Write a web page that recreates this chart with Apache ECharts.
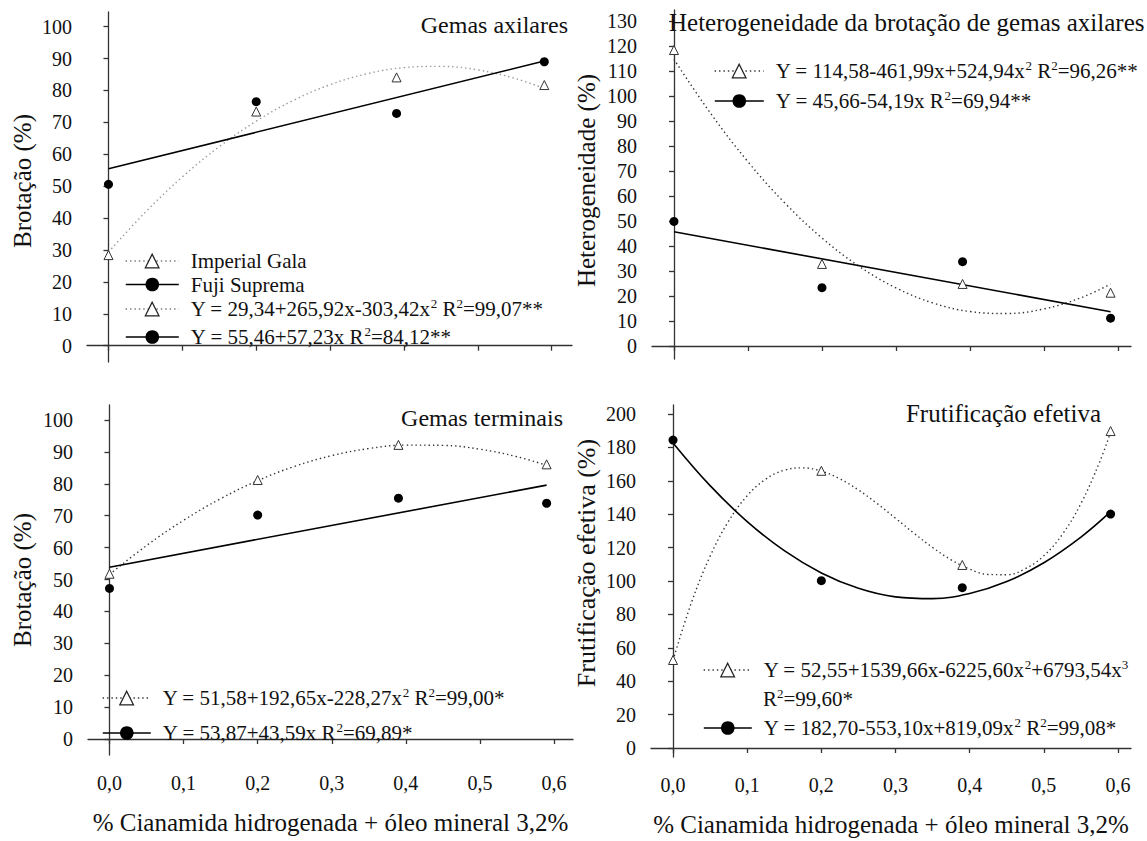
<!DOCTYPE html>
<html><head><meta charset="utf-8">
<script src="https://cdn.jsdelivr.net/npm/echarts@6/dist/echarts.min.js"></script>
<style>
html,body{margin:0;padding:0;background:#fff}
#c{width:1147px;height:841px}
</style>
</head><body><div id="c"></div>
<script>
// ---- observed data ----
const doses = [0, 0.2, 0.39, 0.59];
const galaAxilares = [28.4, 73.4, 84.1, 81.7];
const fujiAxilares = [50.6, 76.5, 72.8, 89.0];
const galaHetero = [118.3, 32.8, 24.8, 21.3];
const fujiHetero = [49.8, 23.3, 33.7, 11.1];
const galaTerminais = [51.8, 81.2, 92.2, 86.1];
const fujiTerminais = [47.2, 70.2, 75.5, 73.9];
const galaFrut = [52.7, 166.0, 109.6, 189.8];
const fujiFrut = [184.4, 100.2, 96.0, 140.1];

// ---- regression curves as drawn ----
const fitX = [0, 0.05, 0.1, 0.15, 0.2, 0.25, 0.3, 0.35, 0.4, 0.45, 0.5, 0.55, 0.59];
const lineX = [0, 0.59];
const galaAxilaresFit = [29.34, 41.88, 52.90, 62.40, 70.39, 76.86, 81.81, 85.24, 87.16, 87.56, 86.45, 83.81, 80.61];
const fujiAxilaresFit = [55.46, 89.23];
const galaHeteroFit = [114.58, 92.79, 73.63, 57.09, 43.18, 31.89, 23.23, 17.19, 13.77, 12.98, 14.82, 19.28, 24.74];
const fujiHeteroFit = [45.66, 13.69];
const galaTerminaisFit = [51.58, 60.64, 68.56, 75.34, 80.98, 85.48, 88.83, 91.05, 92.12, 92.05, 90.84, 88.49, 85.79];
const fujiTerminaisFit = [53.87, 79.59];
const cubicX = [0, 0.025, 0.05, 0.075, 0.1, 0.125, 0.15, 0.175, 0.2, 0.225, 0.25, 0.275, 0.3, 0.325, 0.35, 0.375, 0.4, 0.425, 0.45, 0.475, 0.5, 0.525, 0.55, 0.575, 0.59];
const galaFrutFit = [52.55, 87.26, 114.82, 135.87, 151.05, 160.99, 166.35, 167.74, 165.81, 161.18, 154.51, 146.43, 137.57, 128.57, 120.07, 112.69, 107.11, 103.92, 103.77, 107.32, 115.17, 127.98, 146.39, 171.04, 189.07];
const fujiFrutFit = [182.70, 157.09, 135.58, 118.17, 104.84, 95.62, 90.49, 89.45, 92.51, 99.67, 110.92, 126.27, 141.50];

// ---- ticks ----
const xTicks = [0, 0.1, 0.2, 0.3, 0.4, 0.5, 0.6];
const yTicks100 = [0, 10, 20, 30, 40, 50, 60, 70, 80, 90, 100];
const yTicks130 = [0, 10, 20, 30, 40, 50, 60, 70, 80, 90, 100, 110, 120, 130];
const yTicks200 = [0, 20, 40, 60, 80, 100, 120, 140, 160, 180, 200];

// ---- texts ----
const panelTitles = ['Gemas axilares', 'Heterogeneidade da brotação de gemas axilares', 'Gemas terminais', 'Frutificação efetiva'];
const yNames = ['Brotação (%)', 'Heterogeneidade (%)', 'Brotação (%)', 'Frutificação efetiva (%)'];
const xName = '% Cianamida hidrogenada + óleo mineral 3,2%';
const labels = {
  'Imperial Gala': 'Imperial Gala',
  'Fuji Suprema': 'Fuji Suprema',
  eqA1: 'Y = 29,34+265,92x-303,42x{s|2} R{s|2}=99,07**',
  eqA2: 'Y = 55,46+57,23x R{s|2}=84,12**',
  eqB1: 'Y = 114,58-461,99x+524,94x{s|2} R{s|2}=96,26**',
  eqB2: 'Y = 45,66-54,19x R{s|2}=69,94**',
  eqC1: 'Y = 51,58+192,65x-228,27x{s|2} R{s|2}=99,00*',
  eqC2: 'Y = 53,87+43,59x R{s|2}=69,89*',
  eqD1: 'Y = 52,55+1539,66x-6225,60x{s|2}+6793,54x{s|3}',
  eqD2: 'Y = 182,70-553,10x+819,09x{s|2} R{s|2}=99,08*'
};
const eqD1b = 'R{s|2}=99,60*';

const FONT = "Liberation Serif";
const INK = '#111';
const AX = '#333';
const rich = { s: { fontFamily: FONT, fontSize: 13, color: INK, verticalAlign: 'top', lineHeight: 14 } };
const zip = (xs, ys) => xs.map((x, i) => [x, ys[i]]);

const triStyle = { color: '#fff', borderColor: '#333', borderWidth: 1 };
const dotStyle = { color: '#000', borderColor: '#000', borderWidth: 0 };

function pointSeries(name, xs, ys, tri, gi) {
  return {
    type: 'line', name, xAxisIndex: gi, yAxisIndex: gi, data: zip(xs, ys),
    symbol: tri ? 'triangle' : 'circle', symbolSize: 9, showSymbol: true,
    itemStyle: tri ? triStyle : dotStyle, lineStyle: { opacity: 0, width: 0 },
    z: 5, silent: true, animation: false
  };
}
function fitSeries(name, xs, ys, tri, gi, dotColor) {
  return {
    type: 'line', name, xAxisIndex: gi, yAxisIndex: gi, data: zip(xs, ys),
    symbol: tri ? 'triangle' : 'circle', showSymbol: false, smooth: 0.4,
    itemStyle: tri ? triStyle : dotStyle,
    lineStyle: tri ? { color: dotColor, width: 1.4, type: [1.4, 3] } : { color: '#000', width: 1.6, type: 'solid' },
    z: 3, silent: true, animation: false
  };
}
function legendRow(name, left, cy, w, tri, dotColor) {
  return {
    left, top: cy - 12, padding: 0, itemWidth: w, itemHeight: 17, selectedMode: false,
    data: [{
      name,
      itemStyle: tri ? { color: '#fff', borderColor: '#222', borderWidth: 1.3, opacity: 1 } : { color: '#000', borderColor: '#000', borderWidth: 0, opacity: 1 },
      lineStyle: tri ? { color: dotColor, width: 1.3, type: [1.4, 3], opacity: 1 } : { color: '#000', width: 1.6, type: 'solid', opacity: 1 }
    }],
    formatter: n => labels[n],
    textStyle: { fontFamily: FONT, fontSize: 21, color: INK, lineHeight: 24, padding: [0, 0, 0, 7], rich }
  };
}
function titleAt(text, pos, top, size) {
  return Object.assign({ text, top, padding: 0, textStyle: { fontFamily: FONT, fontSize: size || 24, fontWeight: 'normal', color: INK, lineHeight: 28, rich } }, pos);
}
function xAxis(gi, min, max, showLabels) {
  return {
    type: 'value', gridIndex: gi, min, max,
    axisLine: { show: true, lineStyle: { color: AX, width: 1.3 } },
    axisTick: { show: true, length: 5, inside: false, customValues: xTicks, lineStyle: { color: AX, width: 1.3 } },
    axisLabel: { show: showLabels, customValues: xTicks, margin: 17, fontFamily: FONT, fontSize: 20, color: INK, lineHeight: 22,
      formatter: v => v.toFixed(1).replace('.', ',') },
    splitLine: { show: false },
    name: showLabels ? xName : '', nameLocation: 'middle', nameGap: 55,
    nameTextStyle: { fontFamily: FONT, fontSize: 25, color: INK, lineHeight: 25 }
  };
}
function yAxis(gi, min, max, ticks, name, gap, shiftUp, size) {
  return {
    type: 'value', gridIndex: gi, min, max,
    axisLine: { show: true, lineStyle: { color: AX, width: 1.3 } },
    axisTick: { show: true, length: 5, inside: false, customValues: ticks, lineStyle: { color: AX, width: 1.3 } },
    axisLabel: { customValues: ticks, margin: 15, fontFamily: FONT, fontSize: 20, color: INK, formatter: v => String(v) },
    splitLine: { show: false },
    name, nameLocation: 'middle', nameRotate: 90, nameGap: gap,
    nameTextStyle: { fontFamily: FONT, fontSize: size || 25, color: INK, lineHeight: 25, padding: [0, 0, 0, 2 * shiftUp] }
  };
}

const chart = echarts.init(document.getElementById('c'), null, { renderer: 'svg' });
chart.setOption({
  backgroundColor: '#fff',
  animation: false,
  textStyle: { fontFamily: FONT },
  grid: [
    { left: 87, top: 12, width: 485, height: 350 },
    { left: 652, top: 10, width: 479, height: 349 },
    { left: 88, top: 405, width: 485, height: 350 },
    { left: 651, top: 405, width: 480, height: 352 }
  ],
  xAxis: [
    xAxis(0, -0.0291, 0.6275, false),
    xAxis(1, -0.0297, 0.6176, false),
    xAxis(2, -0.029, 0.6256, true),
    xAxis(3, -0.0297, 0.6175, true)
  ],
  yAxis: [
    yAxis(0, -5.11, 104.6, yTicks100, yNames[0], 52, 6),
    yAxis(1, -5.2, 134.3, yTicks130, yNames[1], 53, 4),
    yAxis(2, -5.0, 104.7, yTicks100, yNames[2], 53, 0),
    yAxis(3, -5.4, 205.4, yTicks200, yNames[3], 52, 18, 26)
  ],
  title: [
    titleAt(panelTitles[0], { right: 579 }, 11),
    titleAt(panelTitles[1], { left: 669 }, 8, 25),
    titleAt(panelTitles[2], { right: 584 }, 404),
    titleAt(panelTitles[3], { right: 46 }, 399, 25),
    { text: eqD1b, left: 763, top: 699 - 12, padding: 0, textStyle: { fontFamily: FONT, fontSize: 21, fontWeight: 'normal', color: INK, lineHeight: 24, rich } }
  ],
  legend: [
    legendRow('Imperial Gala', 125, 261, 53, true, '#777'),
    legendRow('Fuji Suprema', 125, 284.5, 53, false),
    legendRow('eqA1', 125, 309, 53, true, '#777'),
    legendRow('eqA2', 125, 337, 53, false),
    legendRow('eqB1', 714, 71, 49, true, '#333'),
    legendRow('eqB2', 714, 101, 49, false),
    legendRow('eqC1', 102, 698, 48, true, '#333'),
    legendRow('eqC2', 102, 733, 48, false),
    legendRow('eqD1', 703, 670, 48, true, '#333'),
    legendRow('eqD2', 703, 728, 48, false)
  ],
  series: [
    fitSeries('eqA1', fitX, galaAxilaresFit, true, 0, '#999'),
    fitSeries('eqA2', lineX, fujiAxilaresFit, false, 0),
    pointSeries('Imperial Gala', doses, galaAxilares, true, 0),
    pointSeries('Fuji Suprema', doses, fujiAxilares, false, 0),

    fitSeries('eqB1', fitX, galaHeteroFit, true, 1, '#333'),
    fitSeries('eqB2', lineX, fujiHeteroFit, false, 1),
    pointSeries('galaHetero', doses, galaHetero, true, 1),
    pointSeries('fujiHetero', doses, fujiHetero, false, 1),

    fitSeries('eqC1', fitX, galaTerminaisFit, true, 2, '#333'),
    fitSeries('eqC2', lineX, fujiTerminaisFit, false, 2),
    pointSeries('galaTerminais', doses, galaTerminais, true, 2),
    pointSeries('fujiTerminais', doses, fujiTerminais, false, 2),

    fitSeries('eqD1', cubicX, galaFrutFit, true, 3, '#333'),
    fitSeries('eqD2', fitX, fujiFrutFit, false, 3),
    pointSeries('galaFrut', doses, galaFrut, true, 3),
    pointSeries('fujiFrut', doses, fujiFrut, false, 3)
  ]
});
</script></body></html>
